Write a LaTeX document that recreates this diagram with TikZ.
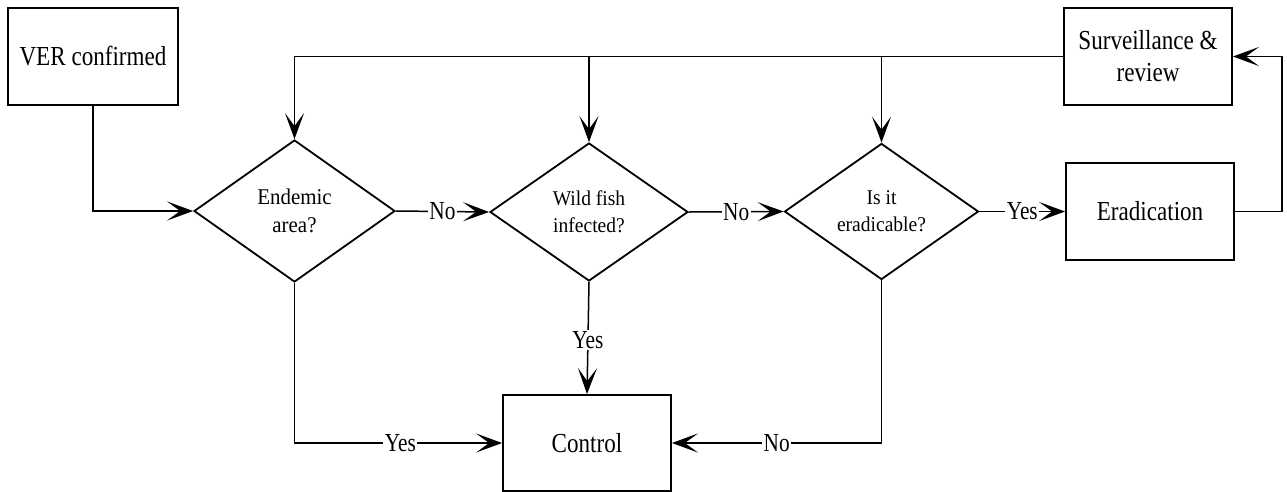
\documentclass[tikz,border=0pt]{standalone}
\usepackage{fontspec}
\setmainfont{Liberation Serif}
\newfontfamily\boxfont{Liberation Serif}[FakeStretch=0.84]
\newfontfamily\labfont{Liberation Serif}[FakeStretch=0.82]
\newfontfamily\dfont{Liberation Serif}[FakeStretch=0.93]
\usetikzlibrary{arrows.meta,shapes.geometric}
\tikzset{
  box/.style={draw, line width=1.8pt, minimum width=168pt, minimum height=96pt, inner sep=0pt, align=center,
    font=\boxfont\fontsize{27.5}{32}\selectfont},
  dec/.style={draw, diamond, line width=1.8pt, inner sep=0pt, align=center},
  dtxtA/.style={font=\dfont\fontsize{22.5}{28}\selectfont},
  dtxtB/.style={font=\dfont\fontsize{21}{27}\selectfont},
  arr/.style={line width=1.5pt, -{Stealth[length=26pt, width=19pt, inset=13pt]}},
  lab/.style={fill=white, inner sep=1.5pt, font=\labfont\fontsize{26}{30}\selectfont},
}
\begin{document}
\begin{tikzpicture}[x=1pt,y=-1pt]
\useasboundingbox (0,0) rectangle (1287,491);
\node[box, minimum width=170pt, minimum height=97pt] (ver) at (93,56.5) {VER confirmed};
\node[box, minimum height=97pt] (surv) at (1148,56.5) {Surveillance \&\\review};
\node[box, minimum height=97pt] (erad) at (1150,211.5) {Eradication};
\node[box] (ctrl) at (587,443) {Control};
\node[dec, dtxtA, minimum width=201pt, minimum height=142pt] (d1) at (294.5,211) {Endemic\\area?};
\node[dec, dtxtB, minimum width=198pt, minimum height=138pt] (d2) at (589,212) {Wild fish\\infected?};
\node[dec, dtxtB, minimum width=194pt, minimum height=136pt] (d3) at (881.5,211.5) {Is it\\eradicable?};
\coordinate (rt) at (1282,211.5);
\coordinate (j2) at (d2.north |- surv.west);
\coordinate (j3) at (d3.north |- surv.west);
\draw[arr] (ver.south) |- (d1.west);
\draw[arr] (d1.east) -- node[lab]{No} (d2.west);
\draw[arr] (d2.east) -- node[lab]{No} (d3.west);
\draw[arr] (d3.east) -- node[lab]{Yes} (erad.west);
\draw[arr] (erad.east) -- (rt) |- (surv.east);
\draw[arr] (surv.west) -| (d1.north);
\draw[arr] (j2) -- (d2.north);
\draw[arr] (j3) -- (d3.north);
\draw[arr] (d1.south) |- node[lab, pos=0.755]{Yes} (ctrl.west);
\draw[arr] (d2.south) -- node[lab, pos=0.52]{Yes} (ctrl.north);
\draw[arr] (d3.south) |- node[lab, pos=0.75]{No} (ctrl.east);
\end{tikzpicture}
\end{document}
